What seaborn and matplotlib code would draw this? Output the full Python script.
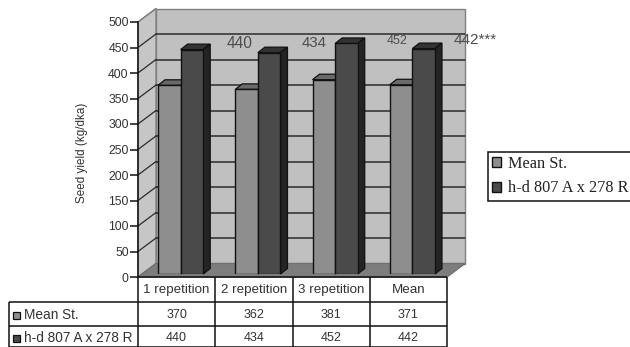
import matplotlib
matplotlib.use("Agg")
import matplotlib.pyplot as plt
from matplotlib.patches import Polygon, Patch
import pandas as pd
import seaborn as sns

categories = ["1 repetition", "2 repetition", "3 repetition", "Mean"]
series_names = ["Mean St.", "h-d 807 A x 278 R"]
mean_st = [370, 362, 381, 371]
hybrid = [440, 434, 452, 442]
y_ticks = list(range(0, 501, 50))
overlay_labels = ["440", "434", "452", "442***"]

W, H = 630, 347
sns.set_theme(style="white")
plt.rcParams["font.family"] = ["Liberation Sans", "DejaVu Sans"]
TXT = "#333333"
C1, C2 = "#8e8e8e", "#4a4a4a"

fig = plt.figure(figsize=(W / 100, H / 100), dpi=100, facecolor="white")


def rect(l, t, r, b):
    return [l / W, 1 - b / H, (r - l) / W, (b - t) / H]


# pixel canvas for walls, floor and table
bg = fig.add_axes([0, 0, 1, 1], zorder=0)
bg.set_xlim(0, W)
bg.set_ylim(H, 0)
bg.axis("off")

L, R, Y0, Y500 = 138, 447, 277, 22
DX, DY = 18, 13.5
scale = (Y0 - Y500) / 500
bg.add_patch(Polygon([(L + DX, Y500 - DY), (R + DX, Y500 - DY), (R + DX, Y0 - DY), (L + DX, Y0 - DY)],
                     fc="#c0c0c0", ec="#808080", lw=1))
bg.add_patch(Polygon([(L, Y500), (L + DX, Y500 - DY), (L + DX, Y0 - DY), (L, Y0)],
                     fc="#c6c6c6", ec="#808080", lw=1))
bg.add_patch(Polygon([(L, Y0), (L + DX, Y0 - DY), (R + DX, Y0 - DY), (R, Y0)],
                     fc="#7d7d7d", ec="#707070", lw=1))
for v in y_ticks[1:]:
    y = Y0 - v * scale
    if v < 500:
        bg.plot([L + DX, R + DX], [y - DY, y - DY], color="#2b2b2b", lw=1.1)
    bg.plot([L, L + DX], [y, y - DY], color="#2b2b2b" if v < 500 else "#808080", lw=0.9)

# y axis
ay = fig.add_axes(rect(L, Y500, R, Y0), zorder=1)
ay.patch.set_alpha(0)
ay.set_ylim(0, 500)
ay.set_xticks([])
ay.set_yticks(y_ticks)
ay.tick_params(axis="y", left=True, length=5.5, width=1.1, color="#111111", labelsize=8.8, labelcolor=TXT, pad=1.2)
for s in ["top", "right", "bottom"]:
    ay.spines[s].set_visible(False)
ay.spines["left"].set_color("#111111")
ay.spines["left"].set_linewidth(1.1)
ay.set_ylabel("Seed yield (kg/dka)", fontsize=8.4, color=TXT)
ay.yaxis.set_label_coords((88 - L) / (R - L), (Y0 - 153) / (Y0 - Y500))

# bars: front plane slightly inside the floor
ax = fig.add_axes(rect(L + 4, Y500 - 3, R + 4, Y0 - 3), zorder=2)
ax.patch.set_alpha(0)
df = pd.DataFrame({
    "category": categories * 2,
    "value": mean_st + hybrid,
    "series": [series_names[0]] * 4 + [series_names[1]] * 4,
})
sns.barplot(data=df, x="category", y="value", hue="series", palette=[C1, C2], width=0.585, gap=0,
            edgecolor="#111111", linewidth=1.0, legend=False, ax=ax, saturation=1, zorder=3)
ax.set_xlim(-0.5, 3.5)
ax.set_ylim(0, 500)
ax.axis("off")

unit_x = 4 / (R - L)
bar_dx, bar_dy = 7 * unit_x, 5.5 / scale
shades = {C1: ("#6a6a6a", "#555555"), C2: ("#333333", "#242424")}
for i, p in enumerate(ax.patches[:8]):
    x0, x1, h = p.get_x(), p.get_x() + p.get_width(), p.get_height()
    top, side = shades[C1 if i < 4 else C2]
    z = 2 if i < 4 else 4
    p.set_zorder(z + 0.5)
    ax.add_patch(Polygon([(x0, h), (x0 + bar_dx, h + bar_dy), (x1 + bar_dx, h + bar_dy), (x1, h)],
                         fc=top, ec="#111111", lw=0.9, zorder=z, clip_on=False))
    ax.add_patch(Polygon([(x1, 0), (x1 + bar_dx, bar_dy), (x1 + bar_dx, h + bar_dy), (x1, h)],
                         fc=side, ec="#111111", lw=0.9, zorder=z, clip_on=False))

# overlaid labels
txt_pos = [(240, 43, 11.2, "center"), (314, 43, 10.8, "center"), (397.5, 41, 9, "center"), (454, 40, 11, "left")]
for s, (x, y, fs, ha) in zip(overlay_labels, txt_pos):
    fig.text(x / W, 1 - y / H, s, fontsize=fs, color="#4d4d4d", ha=ha, va="center", zorder=10)

# data table
col = [(R - L) / 4 * i + L for i in range(5)]
rows = [Y0, 302, 326, 347]
TL = 8.5
lc = "#111111"
tb = dict(color=lc, lw=1.1, solid_capstyle="butt")
bg.plot([L, R], [rows[0], rows[0]], **tb)
bg.plot([TL, R], [rows[1], rows[1]], **tb)
bg.plot([TL, R], [rows[2], rows[2]], **tb)
bg.plot([TL, R], [rows[3] - 0.5, rows[3] - 0.5], **tb)
bg.plot([TL, TL], [rows[1], rows[3]], **tb)
for x in col:
    bg.plot([x, x], [rows[0], rows[3]], **tb)
for i, c in enumerate(categories):
    bg.text((col[i] + col[i + 1]) / 2, 290, c, ha="center", va="center", fontsize=9.6, color=TXT)
    bg.text((col[i] + col[i + 1]) / 2, 315, str(mean_st[i]), ha="center", va="center", fontsize=9, color=TXT)
    bg.text((col[i] + col[i + 1]) / 2, 338, str(hybrid[i]), ha="center", va="center", fontsize=9, color=TXT)
for y, name, c in [(315, series_names[0], C1), (338, series_names[1], C2)]:
    bg.add_patch(Polygon([(13, y - 3.5), (20, y - 3.5), (20, y + 3.5), (13, y + 3.5)], fc=c, ec="#111111", lw=0.9))
    bg.text(24, y, name, ha="left", va="center", fontsize=9.8, color=TXT)

# legend
handles = [Patch(fc=C1, ec="#111111", lw=1), Patch(fc=C2, ec="#111111", lw=1)]
leg = fig.legend(handles, series_names, loc="upper left", bbox_to_anchor=(488 / W, 1 - 151.5 / H),
                 prop={"family": "Liberation Serif", "size": 11.7}, frameon=True, fancybox=False,
                 edgecolor="#111111", framealpha=1, borderaxespad=0, borderpad=0.25, handlelength=0.58,
                 handleheight=0.6, handletextpad=0.38, labelspacing=0.55)
leg.get_frame().set_linewidth(1.1)
for t in leg.get_texts():
    t.set_color("#222222")

fig.savefig("out.png", dpi=100)
